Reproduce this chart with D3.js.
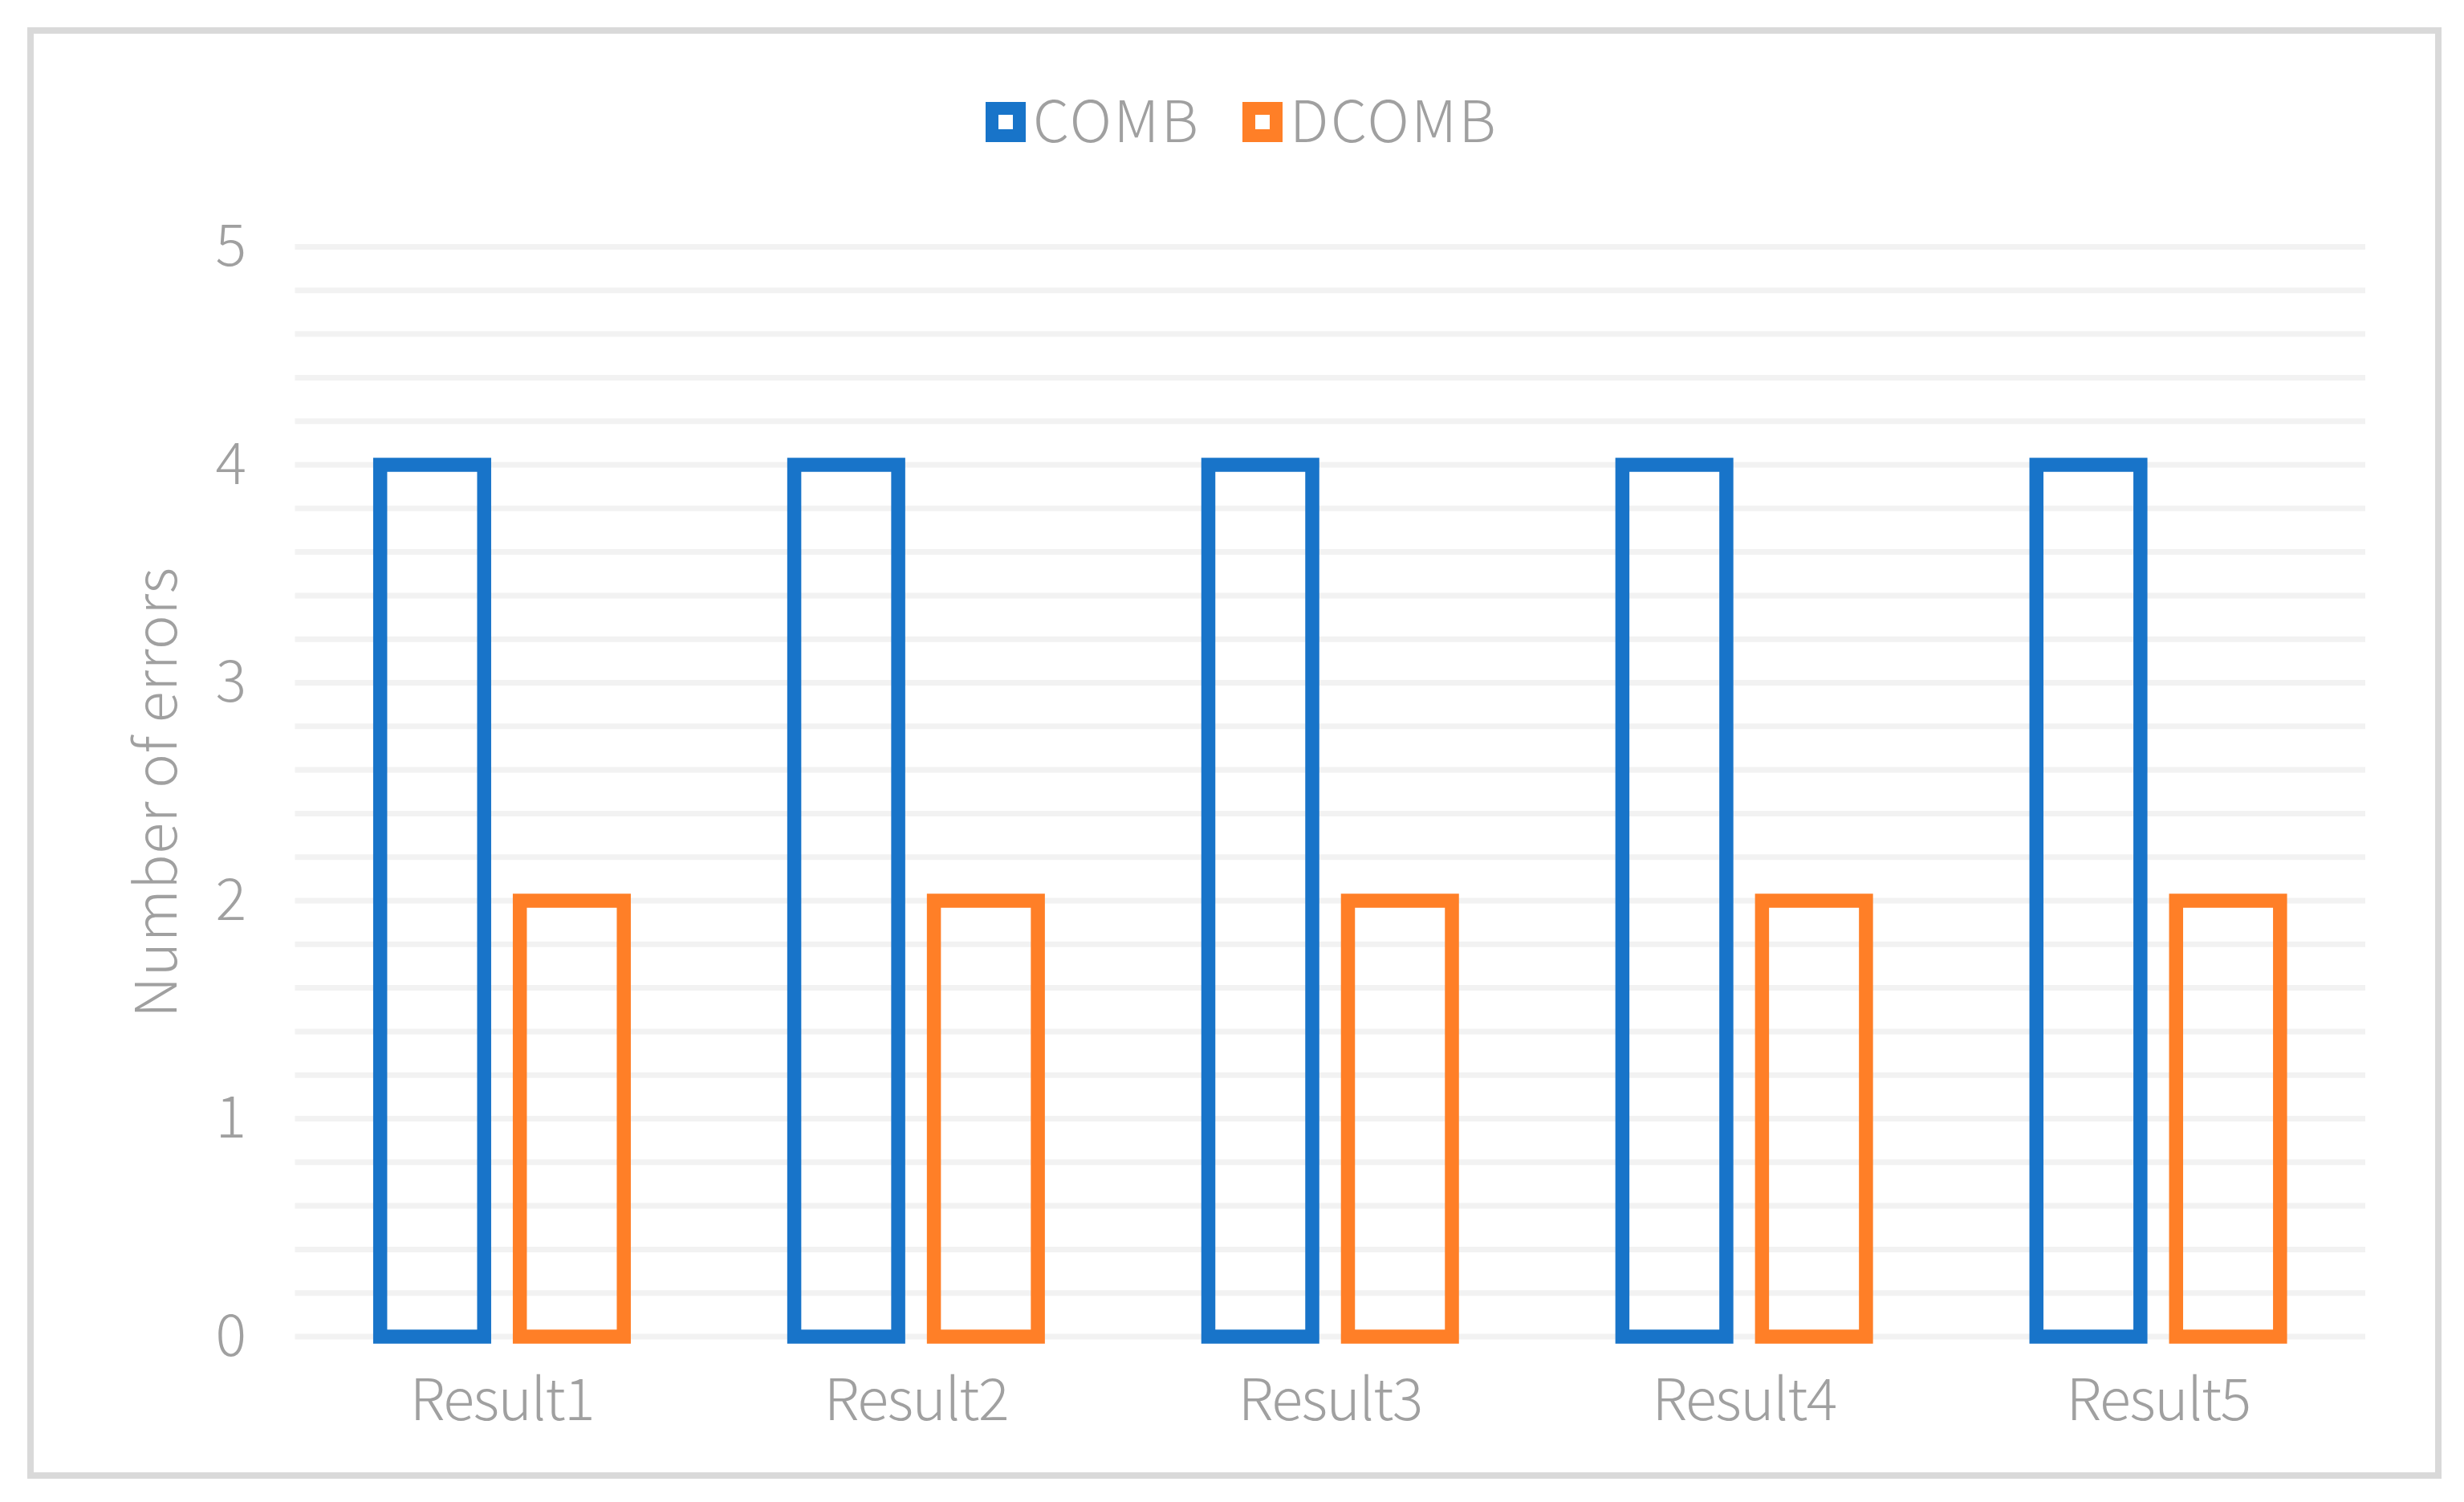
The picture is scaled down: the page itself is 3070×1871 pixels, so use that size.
<!DOCTYPE html>
<html>
<head>
<meta charset="utf-8">
<script src="https://cdn.jsdelivr.net/npm/d3@7"></script>
<style>
  html, body { margin: 0; padding: 0; background: #ffffff; }
  svg text { font-family: "Noto Sans CJK SC", "Noto Sans", sans-serif; font-weight: 300; fill: #a0a0a0; }
</style>
</head>
<body>
<svg id="chart" width="3070" height="1871"></svg>
<script>
const categories = ["Result1", "Result2", "Result3", "Result4", "Result5"];
const seriesNames = ["COMB", "DCOMB"];
const combValues = [4, 4, 4, 4, 4];
const dcombValues = [2, 2, 2, 2, 2];
const yTickLabels = [0, 1, 2, 3, 4, 5];
const yAxisTitle = "Number of errors";

const colors = { COMB: "#1874c9", DCOMB: "#ff7f27" };
const seriesValues = { COMB: combValues, DCOMB: dcombValues };

const svg = d3.select("#chart");
const W = 3070, H = 1871;

svg.append("rect").attr("x", 0).attr("y", 0).attr("width", W).attr("height", H).attr("fill", "#fff");
// outer border
svg.append("rect").attr("x", 38).attr("y", 38).attr("width", 3000).attr("height", 1800)
  .attr("fill", "none").attr("stroke", "#d9d9d9").attr("stroke-width", 8);

const plot = { left: 367.5, right: 2947, top: 307.5, bottom: 1665 };

const y = d3.scaleLinear().domain([0, 5]).range([plot.bottom, plot.top]);
const x0 = d3.scaleBand().domain(categories).range([plot.left, plot.right]).padding(0);
const x1 = d3.scaleBand().domain(seriesNames).range([0, x0.bandwidth()])
  .paddingInner(0.155).paddingOuter(0.56);

// gridlines every 0.2
const gridVals = d3.range(0, 26).map(i => i / 5);
svg.append("g").selectAll("line").data(gridVals).join("line")
  .attr("x1", plot.left).attr("x2", plot.right)
  .attr("y1", d => y(d)).attr("y2", d => y(d))
  .attr("stroke", "#f2f2f2").attr("stroke-width", 7);

// y axis labels
const yAxis = d3.axisLeft(y).tickValues(yTickLabels).tickSize(0).tickPadding(0).tickFormat(d3.format("d"));
const yg = svg.append("g").attr("transform", `translate(${307},0)`).call(yAxis);
yg.select(".domain").remove();
yg.selectAll("text").attr("font-size", 72).attr("fill", "#a0a0a0")
  .attr("font-family", '"Noto Sans CJK SC", "Noto Sans", sans-serif').attr("font-weight", 300);

// x axis labels
const xAxis = d3.axisBottom(x0).tickSize(0).tickPadding(0);
const xg = svg.append("g").attr("transform", `translate(0,${1718})`).call(xAxis);
xg.select(".domain").remove();
xg.selectAll("text").attr("font-size", 72).attr("fill", "#a0a0a0")
  .attr("letter-spacing", -1.5)
  .attr("font-family", '"Noto Sans CJK SC", "Noto Sans", sans-serif').attr("font-weight", 300);

// bars (outlined)
const sw = 17.5;
const groups = svg.append("g").selectAll("g").data(categories).join("g")
  .attr("transform", d => `translate(${x0(d)},0)`);
groups.selectAll("rect").data((c, i) => seriesNames.map(s => ({ s, v: seriesValues[s][i] }))).join("rect")
  .attr("x", d => x1(d.s) + sw / 2)
  .attr("width", x1.bandwidth() - sw)
  .attr("y", d => y(d.v))
  .attr("height", d => y(0) - y(d.v))
  .attr("fill", "none")
  .attr("stroke", d => colors[d.s])
  .attr("stroke-width", sw);

// y axis title
svg.append("text")
  .attr("transform", `translate(${220},${987}) rotate(-90)`)
  .attr("text-anchor", "middle")
  .attr("font-size", 72)
  .attr("letter-spacing", 0.5)
  .text(yAxisTitle);

// legend
const legendItems = [
  { name: "COMB", x: 1228 },
  { name: "DCOMB", x: 1548 }
];
const lg = svg.append("g").selectAll("g").data(legendItems).join("g")
  .attr("transform", d => `translate(${d.x},127)`);
lg.append("rect").attr("x", 8).attr("y", 8).attr("width", 34).attr("height", 34)
  .attr("fill", "none").attr("stroke", d => colors[d.name]).attr("stroke-width", 16);
lg.append("text").attr("x", 59).attr("y", 25).attr("dy", "0.35em")
  .attr("letter-spacing", 2.5)
  .attr("font-size", 72).text(d => d.name);
</script>
</body>
</html>
